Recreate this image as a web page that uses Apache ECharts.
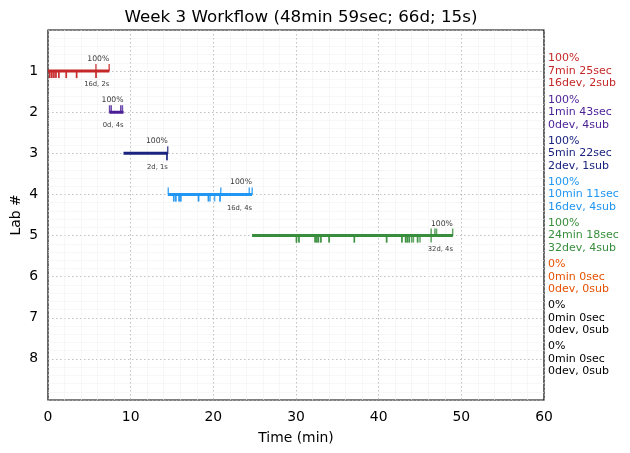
<!DOCTYPE html>
<html>
<head>
<meta charset="utf-8">
<script src="https://cdn.jsdelivr.net/npm/echarts@6/dist/echarts.min.js"></script>
<style>html,body{margin:0;padding:0;background:#fff}#c{width:630px;height:453px}</style>
</head>
<body>
<div id="c"></div>
<script>
// ---- data ----
const titleText = 'Week 3 Workflow (48min 59sec; 66d; 15s)';
const labs = [1, 2, 3, 4, 5, 6, 7, 8];
const labColors = ['#c62828', '#4a1f96', '#1a237e', '#2196f3', '#388e3c', '#e65100', '#000000', '#000000'];
const startMin = [0, 7.417, 9.133, 14.5, 24.683, 0, 0, 0];
const durationSec = [445, 103, 322, 611, 1458, 0, 0, 0];
const scorePct = [100, 100, 100, 100, 100, 0, 0, 0];
const devCounts = [16, 0, 2, 16, 32, 0, 0, 0];
const subCounts = [2, 4, 1, 4, 4, 0, 0, 0];
const devTimes = [
  [0.2, 0.22, 0.45, 0.47, 0.7, 0.72, 0.95, 0.97, 1.3, 1.32, 2.2, 2.22, 3.45, 3.47, 5.8, 5.82],
  [],
  [14.38, 14.4],
  [15.2, 15.22, 15.45, 15.47, 15.85, 15.87, 16.05, 16.07, 18.2, 18.22, 19.4, 19.42, 19.6, 20.15, 20.8, 20.82],
  [30.05, 30.07, 30.35, 30.37, 32.3, 32.32, 32.5, 32.52, 32.7, 32.72, 33.0, 33.02, 34.0, 34.02, 37.05, 37.07,
   40.95, 40.97, 42.8, 42.82, 43.25, 43.27, 43.45, 43.5, 43.7, 43.72, 44.0, 44.2, 44.7, 44.72, 45.0, 46.35],
  [], [], []
];
const subTimes = [
  [5.8, 7.4],
  [7.45, 7.65, 8.8, 9.0],
  [14.48],
  [14.55, 20.9, 24.35, 24.7],
  [46.35, 46.8, 47.0, 48.95],
  [], [], []
];
const xTicks = [0, 10, 20, 30, 40, 50, 60];

// ---- chart ----
const FONT = 'DejaVu Sans';
const chart = echarts.init(document.getElementById('c'), null, {renderer: 'canvas'});
const series = [];
const rich = {};
labs.forEach((lab, i) => {
  rich['l' + lab] = {color: labColors[i], fontSize: 11, lineHeight: 12.5, fontFamily: FONT};
  if (durationSec[i] <= 0) return;
  const endMin = startMin[i] + durationSec[i] / 60;
  series.push({
    type: 'line', data: [[startMin[i], lab], [endMin, lab]], symbol: 'none',
    lineStyle: {color: labColors[i], width: 3}, z: 3, silent: true
  });
  series.push({
    type: 'scatter', data: devTimes[i].map(t => [t, lab]), symbol: 'rect',
    symbolSize: [1.5, 7], symbolOffset: [0, 3.5], itemStyle: {color: labColors[i]}, z: 4, silent: true
  });
  series.push({
    type: 'scatter', data: subTimes[i].map(t => [t, lab]), symbol: 'rect',
    symbolSize: [1.5, 7], symbolOffset: [0, -3.5], itemStyle: {color: labColors[i]}, z: 4, silent: true
  });
  series.push({
    type: 'scatter', data: [[endMin, lab]], symbolSize: 0, z: 5, silent: true,
    label: {show: true, position: [0, -12], align: 'right', verticalAlign: 'middle',
      formatter: scorePct[i] + '%', fontSize: 7.7, fontFamily: FONT, color: '#000'}
  });
  series.push({
    type: 'scatter', data: [[endMin, lab]], symbolSize: 0, z: 5, silent: true,
    label: {show: true, position: [0, 13.5], align: 'right', verticalAlign: 'middle',
      formatter: devCounts[i] + 'd, ' + subCounts[i] + 's', fontSize: 6.8, fontFamily: FONT, color: '#000'}
  });
});

function rightLabel(v) {
  const i = labs.indexOf(v);
  if (i < 0) return '';
  const m = Math.floor(durationSec[i] / 60), s = durationSec[i] % 60;
  const txt = scorePct[i] + '%\n' + m + 'min ' + s + 'sec\n' + devCounts[i] + 'dev, ' + subCounts[i] + 'sub';
  return '{l' + v + '|' + txt + '}';
}

const gridLine = {show: true, lineStyle: {color: '#b0b0b0', type: [1.5, 2.5], width: 0.8}};
const minorLine = {show: true, lineStyle: {color: '#f2f2f2', width: 0.6}};

chart.setOption({
  animation: false,
  backgroundColor: '#fff',
  textStyle: {fontFamily: FONT},
  title: {text: titleText, left: 296, top: 4, textAlign: 'center',
    textStyle: {fontSize: 16.7, fontWeight: 'normal', color: '#000', fontFamily: FONT}},
  grid: {left: 48, right: 86, top: 30, bottom: 53, show: true, borderColor: '#000', borderWidth: 1.2,
    containLabel: false, outerBoundsMode: 'none'},
  xAxis: {
    type: 'value', min: xTicks[0], max: xTicks[xTicks.length - 1], interval: 10,
    name: 'Time (min)', nameLocation: 'middle', nameGap: 31, nameMoveOverlap: false,
    nameTextStyle: {fontSize: 13.9, color: '#000', fontFamily: FONT},
    axisLine: {show: false}, axisTick: {show: false},
    axisLabel: {fontSize: 13.9, color: '#000', margin: 10, fontFamily: FONT},
    splitLine: gridLine,
    minorTick: {show: false, splitNumber: 5}, minorSplitLine: minorLine
  },
  yAxis: [{
    type: 'value', min: 0, max: 9, interval: 1, inverse: true,
    name: 'Lab #', nameLocation: 'middle', nameGap: 25, nameRotate: 90, nameMoveOverlap: false,
    nameTextStyle: {fontSize: 13.9, color: '#000', fontFamily: FONT},
    axisLine: {show: false}, axisTick: {show: false},
    axisLabel: {fontSize: 13.9, color: '#000', margin: 10, fontFamily: FONT,
      formatter: v => (labs.indexOf(v) >= 0 ? String(v) : '')},
    splitLine: gridLine,
    minorTick: {show: false, splitNumber: 5}, minorSplitLine: minorLine
  }, {
    type: 'value', min: 0, max: 9, interval: 1, inverse: true, position: 'right',
    axisLine: {show: false}, axisTick: {show: false}, splitLine: {show: false},
    axisLabel: {margin: 4, formatter: rightLabel, rich: rich, fontFamily: FONT}
  }],
  series: series
});
</script>
</body>
</html>
